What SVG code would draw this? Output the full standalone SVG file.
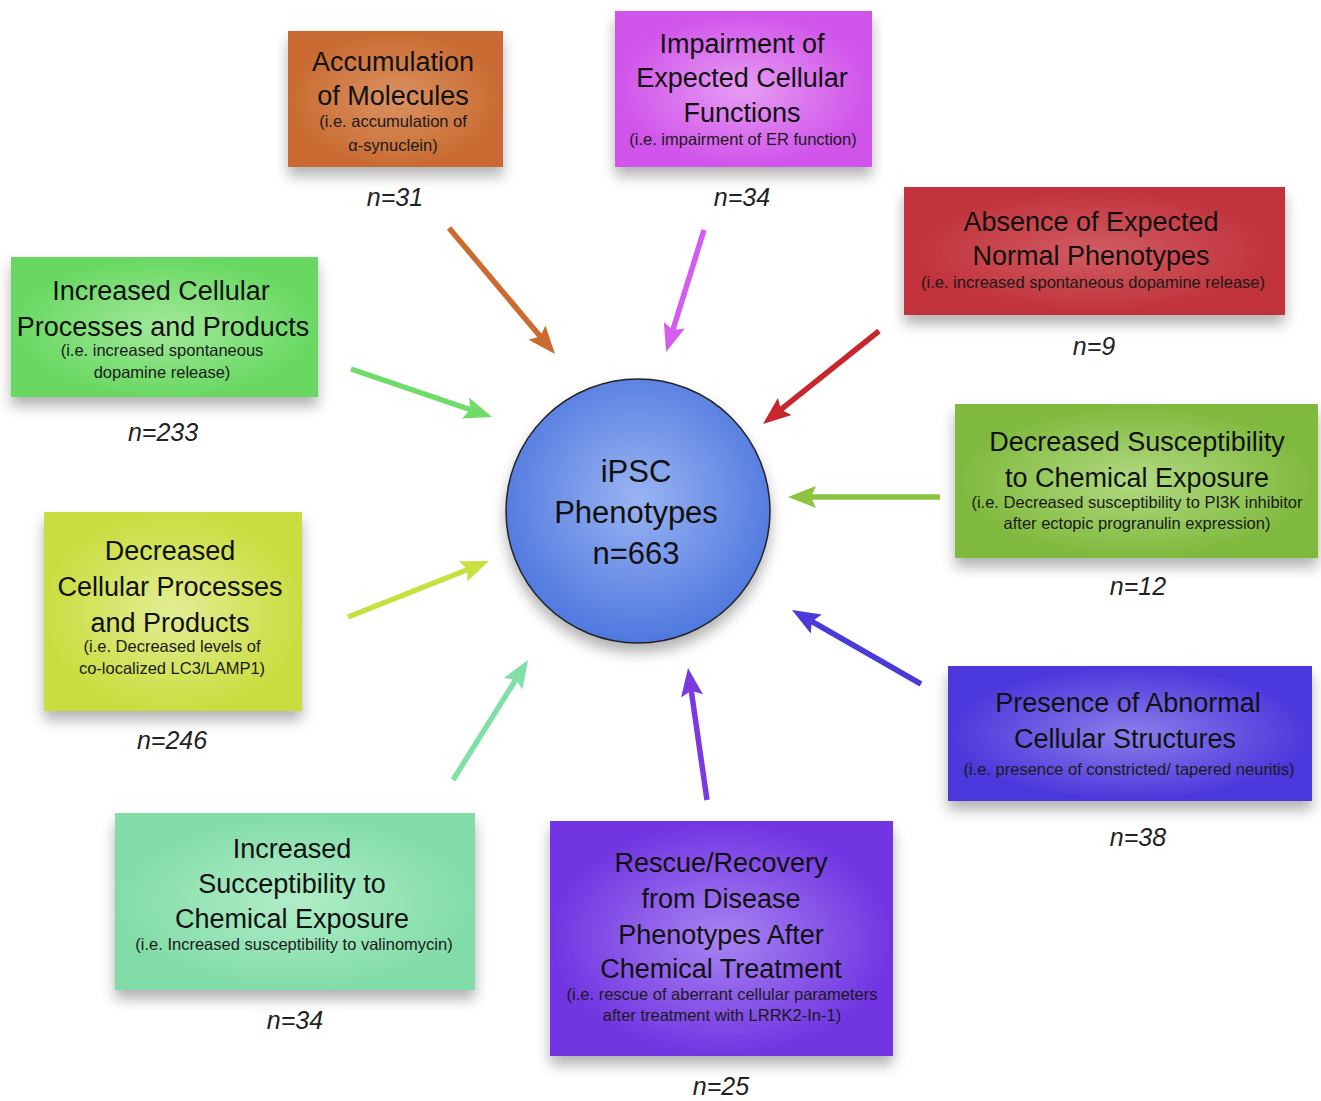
<svg xmlns="http://www.w3.org/2000/svg" width="1321" height="1101" viewBox="0 0 1321 1101">
<defs>
<style>
.t{font-family:"Liberation Sans",Arial,sans-serif;font-size:27px;fill:#111;text-anchor:middle}
.s{font-family:"Liberation Sans",Arial,sans-serif;font-size:16.5px;fill:#1a1a1a;text-anchor:middle}
.n{font-family:"Liberation Sans",Arial,sans-serif;font-size:25px;font-style:italic;fill:#222;text-anchor:middle}
.c{font-family:"Liberation Sans",Arial,sans-serif;font-size:31px;fill:#111;text-anchor:middle}
.a{fill:none;stroke-width:5.5;stroke-linecap:butt}
</style>
<filter id="sh" x="-20%" y="-20%" width="140%" height="150%">
<feDropShadow dx="0" dy="9" stdDeviation="7" flood-color="#000" flood-opacity="0.3"/>
</filter>
<radialGradient id="g1"><stop offset="0" stop-color="#da9262"/><stop offset="1" stop-color="#c96b31"/></radialGradient>
<radialGradient id="g2"><stop offset="0" stop-color="#e69cf3"/><stop offset="1" stop-color="#d053ea"/></radialGradient>
<radialGradient id="g3"><stop offset="0" stop-color="#d05c62"/><stop offset="1" stop-color="#c1313a"/></radialGradient>
<radialGradient id="g4"><stop offset="0" stop-color="#b2da82"/><stop offset="1" stop-color="#7fb93d"/></radialGradient>
<radialGradient id="g5"><stop offset="0" stop-color="#8a7ee9"/><stop offset="1" stop-color="#4c37dc"/></radialGradient>
<radialGradient id="g6"><stop offset="0" stop-color="#a884f1"/><stop offset="1" stop-color="#7135e2"/></radialGradient>
<radialGradient id="g7"><stop offset="0" stop-color="#b0edc8"/><stop offset="1" stop-color="#82dca8"/></radialGradient>
<radialGradient id="g8"><stop offset="0" stop-color="#e2ee94"/><stop offset="1" stop-color="#cadd40"/></radialGradient>
<radialGradient id="g9"><stop offset="0" stop-color="#a2e99a"/><stop offset="1" stop-color="#68d862"/></radialGradient>
<radialGradient id="gc" cx="0.5" cy="0.45" r="0.55"><stop offset="0" stop-color="#9ab4f2"/><stop offset="1" stop-color="#4f78df"/></radialGradient>
<marker id="m1" viewBox="0 0 28 22" markerWidth="28" markerHeight="22" markerUnits="userSpaceOnUse" refX="14" refY="11" orient="auto"><path d="M0,0 L28,11 L0,22 L5,11 z" fill="#cc6a30"/></marker>
<marker id="m2" viewBox="0 0 28 22" markerWidth="28" markerHeight="22" markerUnits="userSpaceOnUse" refX="14" refY="11" orient="auto"><path d="M0,0 L28,11 L0,22 L5,11 z" fill="#d45cf0"/></marker>
<marker id="m3" viewBox="0 0 28 22" markerWidth="28" markerHeight="22" markerUnits="userSpaceOnUse" refX="14" refY="11" orient="auto"><path d="M0,0 L28,11 L0,22 L5,11 z" fill="#c8262c"/></marker>
<marker id="m4" viewBox="0 0 28 22" markerWidth="28" markerHeight="22" markerUnits="userSpaceOnUse" refX="14" refY="11" orient="auto"><path d="M0,0 L28,11 L0,22 L5,11 z" fill="#8cc440"/></marker>
<marker id="m5" viewBox="0 0 28 22" markerWidth="28" markerHeight="22" markerUnits="userSpaceOnUse" refX="14" refY="11" orient="auto"><path d="M0,0 L28,11 L0,22 L5,11 z" fill="#4a3ad8"/></marker>
<marker id="m6" viewBox="0 0 28 22" markerWidth="28" markerHeight="22" markerUnits="userSpaceOnUse" refX="14" refY="11" orient="auto"><path d="M0,0 L28,11 L0,22 L5,11 z" fill="#7a3ae0"/></marker>
<marker id="m7" viewBox="0 0 28 22" markerWidth="28" markerHeight="22" markerUnits="userSpaceOnUse" refX="14" refY="11" orient="auto"><path d="M0,0 L28,11 L0,22 L5,11 z" fill="#80e0a8"/></marker>
<marker id="m8" viewBox="0 0 28 22" markerWidth="28" markerHeight="22" markerUnits="userSpaceOnUse" refX="14" refY="11" orient="auto"><path d="M0,0 L28,11 L0,22 L5,11 z" fill="#c8e040"/></marker>
<marker id="m9" viewBox="0 0 28 22" markerWidth="28" markerHeight="22" markerUnits="userSpaceOnUse" refX="14" refY="11" orient="auto"><path d="M0,0 L28,11 L0,22 L5,11 z" fill="#70dc68"/></marker>
</defs>
<rect width="1321" height="1101" fill="#ffffff"/>

<g id="connectors">
<path class="a" stroke="#cc6a30" d="M449,228 L546,343.3" marker-end="url(#m1)"/>
<path class="a" stroke="#d45cf0" d="M704,230 L670.2,338.6" marker-end="url(#m2)"/>
<path class="a" stroke="#c8262c" d="M879,331 L773.9,415.2" marker-end="url(#m3)"/>
<path class="a" stroke="#8cc440" d="M940,497 L802,497" marker-end="url(#m4)"/>
<path class="a" stroke="#4a3ad8" d="M921,684 L804.1,617" marker-end="url(#m5)"/>
<path class="a" stroke="#7a3ae0" d="M707,800 L690,681.9" marker-end="url(#m6)"/>
<path class="a" stroke="#80e0a8" d="M453,780 L520.6,671.9" marker-end="url(#m7)"/>
<path class="a" stroke="#c8e040" d="M348,617 L476,566.2" marker-end="url(#m8)"/>
<path class="a" stroke="#70dc68" d="M351,369 L478.8,412.5" marker-end="url(#m9)"/>
</g>

<g id="center">
<circle cx="638" cy="511" r="132" fill="url(#gc)" stroke="#222" stroke-width="1.5" filter="url(#sh)"/>
<text class="c" x="636" y="482">iPSC</text>
<text class="c" x="636" y="523">Phenotypes</text>
<text class="c" x="636" y="564">n=663</text>
</g>

<g id="accumulation">
<rect x="288" y="31" width="215" height="136" fill="url(#g1)" filter="url(#sh)"/>
<text class="t" x="393" y="71">Accumulation</text>
<text class="t" x="393" y="105">of Molecules</text>
<text class="s" x="393" y="127">(i.e. accumulation of</text>
<text class="s" x="393" y="151">α-synuclein)</text>
<text class="n" x="395" y="206">n=31</text>
</g>

<g id="impairment">
<rect x="615" y="11" width="257" height="156" fill="url(#g2)" filter="url(#sh)"/>
<text class="t" x="742" y="53">Impairment of</text>
<text class="t" x="742" y="87">Expected Cellular</text>
<text class="t" x="742" y="122">Functions</text>
<text class="s" x="743" y="145">(i.e. impairment of ER function)</text>
<text class="n" x="742" y="206">n=34</text>
</g>

<g id="absence">
<rect x="904" y="187" width="381" height="128" fill="url(#g3)" filter="url(#sh)"/>
<text class="t" x="1091" y="231">Absence of Expected</text>
<text class="t" x="1091" y="265">Normal Phenotypes</text>
<text class="s" x="1093" y="288">(i.e. increased spontaneous dopamine release)</text>
<text class="n" x="1094" y="355">n=9</text>
</g>

<g id="decreased-susceptibility">
<rect x="955" y="404" width="363" height="154" fill="url(#g4)" filter="url(#sh)"/>
<text class="t" x="1137" y="451">Decreased Susceptibility</text>
<text class="t" x="1137" y="487">to Chemical Exposure</text>
<text class="s" x="1137" y="508">(i.e. Decreased susceptibility to PI3K inhibitor</text>
<text class="s" x="1137" y="529">after ectopic progranulin expression)</text>
<text class="n" x="1138" y="595">n=12</text>
</g>

<g id="presence">
<rect x="948" y="666" width="364" height="135" fill="url(#g5)" filter="url(#sh)"/>
<text class="t" x="1128" y="712">Presence of Abnormal</text>
<text class="t" x="1125" y="748">Cellular Structures</text>
<text class="s" x="1129" y="775">(i.e. presence of constricted/ tapered neuritis)</text>
<text class="n" x="1138" y="846">n=38</text>
</g>

<g id="rescue">
<rect x="550" y="821" width="343" height="235" fill="url(#g6)" filter="url(#sh)"/>
<text class="t" x="721" y="872">Rescue/Recovery</text>
<text class="t" x="721" y="908">from Disease</text>
<text class="t" x="721" y="944">Phenotypes After</text>
<text class="t" x="721" y="978">Chemical Treatment</text>
<text class="s" x="722" y="1000">(i.e. rescue of aberrant cellular parameters</text>
<text class="s" x="722" y="1021">after treatment with LRRK2-In-1)</text>
<text class="n" x="721" y="1095">n=25</text>
</g>

<g id="increased-susceptibility">
<rect x="115" y="813" width="360" height="177" fill="url(#g7)" filter="url(#sh)"/>
<text class="t" x="292" y="858">Increased</text>
<text class="t" x="292" y="893">Succeptibility to</text>
<text class="t" x="292" y="928">Chemical Exposure</text>
<text class="s" x="294" y="950">(i.e. Increased susceptibility to valinomycin)</text>
<text class="n" x="295" y="1029">n=34</text>
</g>

<g id="decreased-cellular">
<rect x="44" y="512" width="258" height="199" fill="url(#g8)" filter="url(#sh)"/>
<text class="t" x="170" y="560">Decreased</text>
<text class="t" x="170" y="596">Cellular Processes</text>
<text class="t" x="170" y="632">and Products</text>
<text class="s" x="172" y="652">(i.e. Decreased levels of</text>
<text class="s" x="172" y="674">co-localized LC3/LAMP1)</text>
<text class="n" x="172" y="749">n=246</text>
</g>

<g id="increased-cellular">
<rect x="11" y="257" width="307" height="140" fill="url(#g9)" filter="url(#sh)"/>
<text class="t" x="161" y="300">Increased Cellular</text>
<text class="t" x="163" y="336">Processes and Products</text>
<text class="s" x="162" y="356">(i.e. increased spontaneous</text>
<text class="s" x="162" y="378">dopamine release)</text>
<text class="n" x="163" y="441">n=233</text>
</g>
</svg>
